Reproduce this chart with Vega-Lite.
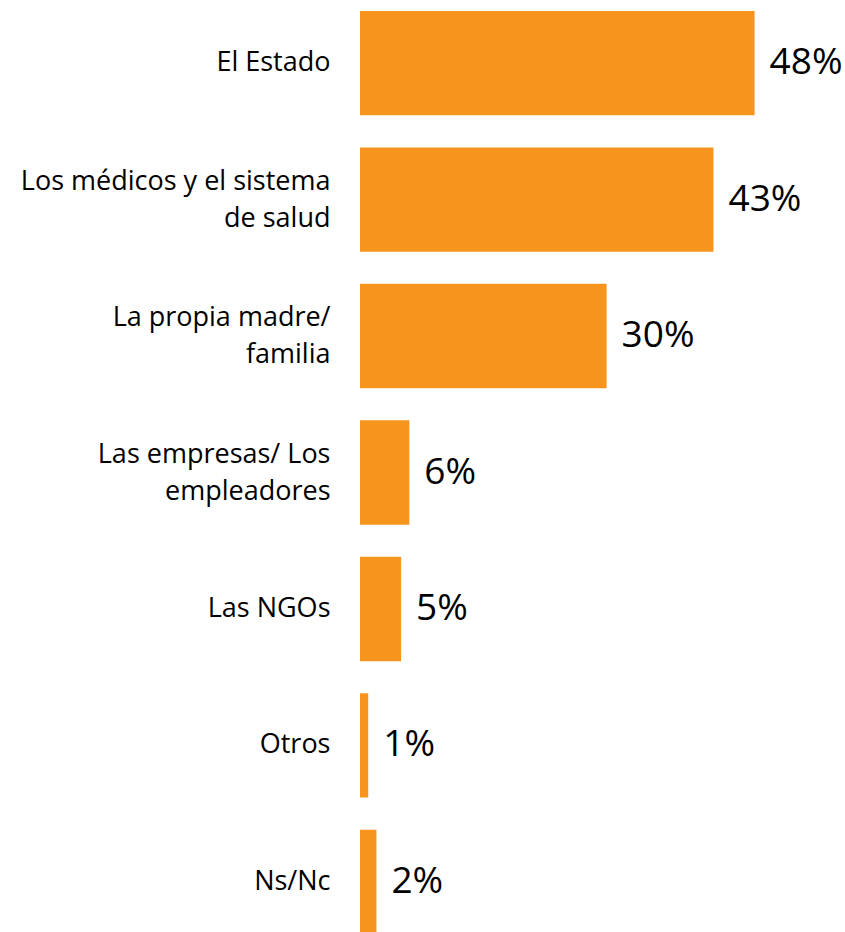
{
  "$schema": "https://vega.github.io/schema/vega-lite/v6.json",
  "width": 485,
  "height": 945,
  "autosize": {"type": "none"},
  "padding": {"left": 360, "top": 0, "right": 0, "bottom": 0},
  "background": "white",
  "config": {"view": {"stroke": null}},
  "data": {
    "values": [
      {"category": "El Estado", "value": 0.48},
      {"category": "Los médicos y el sistema\nde salud", "value": 0.43},
      {"category": "La propia madre/\nfamilia", "value": 0.30},
      {"category": "Las empresas/ Los\nempleadores", "value": 0.06},
      {"category": "Las NGOs", "value": 0.05},
      {"category": "Otros", "value": 0.01},
      {"category": "Ns/Nc", "value": 0.02}
    ]
  },
  "encoding": {
    "y": {
      "field": "category",
      "type": "nominal",
      "sort": null,
      "scale": {"paddingInner": 0.235, "paddingOuter": 0.08},
      "axis": {
        "title": null,
        "domain": false,
        "ticks": false,
        "labelFont": "Open Sans",
        "labelFontSize": 27,
        "labelColor": "#000000",
        "labelPadding": 30,
        "labelLineHeight": 37,
        "labelLimit": 400,
        "labelOffset": {"expr": "indexof(datum.value, '\\n') >= 0 ? -18 : 0"},
        "labelExpr": "split(datum.value, '\\n')"
      }
    },
    "x": {
      "field": "value",
      "type": "quantitative",
      "scale": {"domain": [0, 0.59], "nice": false},
      "axis": null
    }
  },
  "layer": [
    {"mark": {"type": "bar", "color": "#F7941D"}},
    {
      "mark": {"type": "text", "align": "left", "baseline": "middle", "dx": 15, "font": "Open Sans", "fontSize": 37, "color": "#000000"},
      "encoding": {"text": {"field": "value", "type": "quantitative", "format": ".0%"}}
    }
  ]
}
